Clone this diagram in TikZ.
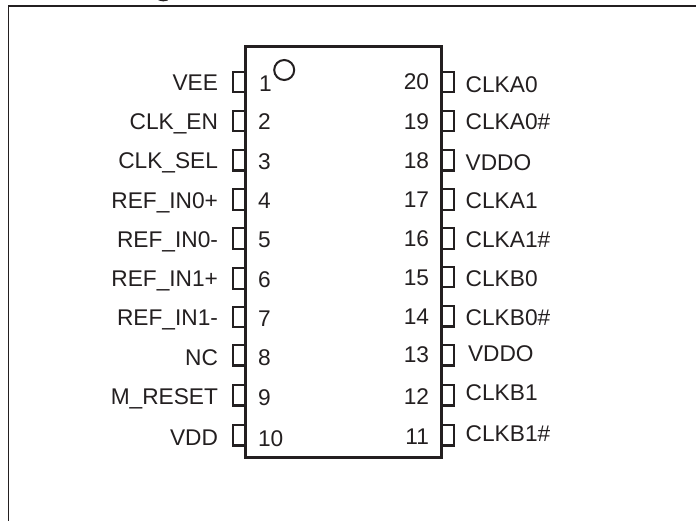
\documentclass[tikz,border=0pt]{standalone}
\usepackage{fontspec}
\setmainfont{Liberation Sans}
\definecolor{ink}{HTML}{231F20}
\tikzset{
  px/.style={x=1bp,y=-1bp},
  frameline/.style={draw=ink,line width=1.5bp},
  chipbox/.style={draw=ink,line width=2.5bp,rectangle,inner sep=0pt,outer sep=0pt,minimum width=195.8bp,minimum height=410.6bp},
  pinbox/.style={draw=ink,line width=2.2bp},
  marker/.style={draw=ink,line width=2bp,circle,inner sep=0pt,minimum size=20bp},
  txt/.style={text=ink,inner sep=0pt,outer sep=0pt,font=\fontsize{22.7bp}{24bp}\selectfont},
  lblright/.style={txt,anchor=base east},
  lblleft/.style={txt,anchor=base west}
}
\begin{document}
\begin{tikzpicture}[px]
\useasboundingbox (0,0) rectangle (696,521);
\begin{scope}
\clip (0,0) rectangle (696,521);
% frame, running off the right and bottom edges
\coordinate (fa) at (8.7,530);
\coordinate (fb) at (8.7,6);
\coordinate (fc) at (705,6);
\draw[frameline,line join=miter] (fa) -- (fb) -- (fc);
% cropped heading remnant
\fill[ink] (156,-2) -- (170,-2) .. controls (169,2.5) and (158,2.5) .. (156,-2) -- cycle;
\end{scope}
\node[chipbox] (chip) at (343.4,252) {};
\node[marker] (dot) at (284.2,70) {};
% left pins: number / top of box / label / label baseline / pin number baseline / pin number x
\foreach \n/\t/\l/\lb/\nb/\nx in {
 1/71.7/VEE/91/91.7/259,
 2/110.7/CLK\_EN/130/130/258,
 3/150/CLK\_SEL/168.5/170/258,
 4/189.3/REF\_IN0+/208.3/209/258,
 5/228.3/REF\_IN0-/247.7/248/258,
 6/268.3/REF\_IN1+/286/287/258,
 7/306.7/REF\_IN1-/325.7/326.7/258,
 8/345/NC/365/365.7/258,
 9/385/M\_RESET/404.3/405/258,
 10/425/VDD/445.7/446/258}{
  \coordinate (pa\n) at (245.5,\t);
  \coordinate (pb\n) at (233,\t);
  \coordinate (pc\n) at (233,\t+20.5);
  \coordinate (pd\n) at (245.5,\t+20.5);
  \draw[pinbox] (pa\n) -- (pb\n) -- (pc\n) -- (pd\n);
  \node[lblright] (name\n) at (218,\lb) {\l};
  \node[lblleft] (num\n) at (\nx,\nb) {\n};
}
% right pins
\foreach \n/\t/\l/\lb/\nb/\lx in {
 20/71.7/CLKA0/92.3/90/465.7,
 19/110.7/CLKA0\#/130/129.3/465.7,
 18/150/VDDO/170.7/168.3/465.7,
 17/189.3/CLKA1/209/207.7/465.7,
 16/228.3/CLKA1\#/247.7/246.7/465.7,
 15/266.7/CLKB0/286.7/285/465.7,
 14/306/CLKB0\#/325/324/465.7,
 13/345/VDDO/361/362.7/468,
 12/385/CLKB1/400.7/404/465.7,
 11/425/CLKB1\#/441/444/465.7}{
  \coordinate (pa\n) at (441.3,\t);
  \coordinate (pb\n) at (454,\t);
  \coordinate (pc\n) at (454,\t+20.5);
  \coordinate (pd\n) at (441.3,\t+20.5);
  \draw[pinbox] (pa\n) -- (pb\n) -- (pc\n) -- (pd\n);
  \node[lblleft] (name\n) at (\lx,\lb) {\l};
  \node[lblright] (num\n) at (429,\nb) {\n};
}
\end{tikzpicture}
\end{document}
